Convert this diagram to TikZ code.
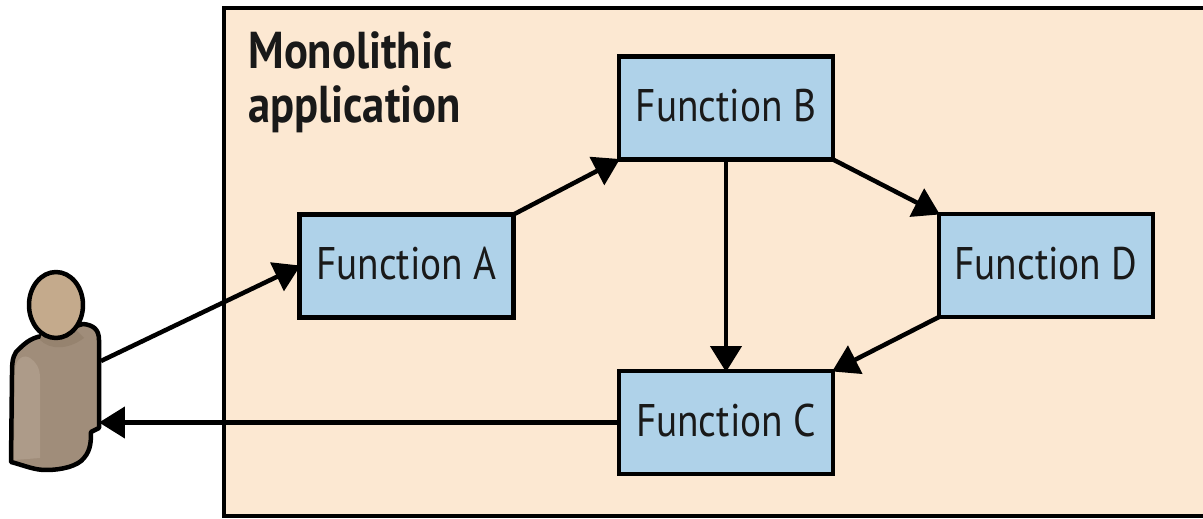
\documentclass[tikz,border=0pt]{standalone}
\usepackage{fontspec}
\setmainfont[FakeStretch=0.86]{PT Sans}
\usetikzlibrary{arrows.meta}
\definecolor{appfill}{HTML}{FCE8D2}
\definecolor{funcfill}{HTML}{AFD2E9}
\definecolor{headfill}{HTML}{C4AA8C}
\definecolor{bodyfill}{HTML}{A08D7A}
\definecolor{armfill}{HTML}{AD9B89}
\definecolor{neckfill}{HTML}{96836F}
\tikzset{
  func/.style={draw=black,line width=0.09cm,fill=funcfill,minimum width=4.28cm,minimum height=2.06cm,
    inner sep=0pt,outer sep=0pt,text height=0.7cm,text depth=0.14cm,font=\fontsize{26}{30}\selectfont,text=black!90},
  flow/.style={draw=black,line width=0.09cm,-{Triangle[length=0.52cm,width=0.62cm]},shorten >=-0.02cm},
  outline/.style={draw=black,line width=0.09cm,line join=round}
}
\begin{document}
\begin{tikzpicture}[x=0.02cm,y=-0.02cm]
\useasboundingbox (0,0) rectangle (1203,519);
\fill[white] (0,0) rectangle (1203,519);
\draw[fill=appfill,line width=0.09cm] (224,8) rectangle (1225,516);
\node[anchor=north west,inner sep=0pt,align=left,font=\fontsize{29.5}{31}\selectfont\bfseries,text=black!90] (title) at (248,31) {Monolithic\\application};

\node[func] (funcA) at (406.5,266) {Function A};
\node[func] (funcB) at (726,108) {Function B};
\node[func] (funcC) at (726,422.5) {Function C};
\node[func] (funcD) at (1046,265.5) {Function D};

% user
\draw[outline,fill=bodyfill] (42,336) .. controls (30,338) and (24,344) .. (16,352) .. controls (12,358) and (12,366) .. (12,375)
  -- (11,462) .. controls (26,466) and (34,470) .. (46,470)
  .. controls (62,470) and (78,466) .. (84,458) .. controls (91,450) and (91,440) .. (91,432)
  -- (99,428) -- (99,340) .. controls (99,330) and (94,325) .. (83,324) -- (42,336) -- cycle;
\fill[armfill] (15,370) .. controls (16,358) and (24,354) .. (30,358) .. controls (36,362) and (40,368) .. (40,378) -- (40,458) -- (14,460) -- cycle;
\fill[neckfill] (40,340) .. controls (50,350) and (68,350) .. (84,338) -- (72,326) -- (44,326) -- cycle;
\draw[outline,fill=headfill] (56,305) ellipse (27 and 33);
\coordinate (userOut) at (101,361);
\coordinate (userIn) at (100,422.5);

\draw[flow] (userOut) -- (funcA.west);
\draw[flow] (funcA.north east) -- (funcB.south west);
\draw[flow] (funcB.south) -- (funcC.north);
\draw[flow] (funcB.south east) -- (funcD.north west);
\draw[flow] (funcD.south west) -- (funcC.north east);
\draw[flow] (funcC.west) -- (userIn);
\end{tikzpicture}
\end{document}
